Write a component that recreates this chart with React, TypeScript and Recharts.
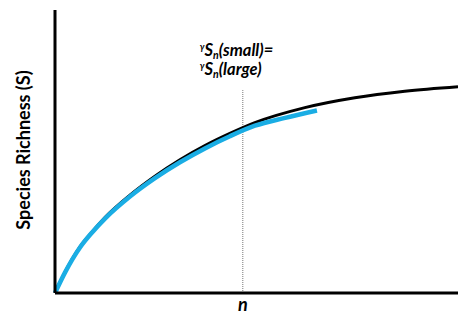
import React from "react";
import { ComposedChart, Line, XAxis, YAxis, ReferenceLine } from "recharts";

// Data (x: sample size, y: species richness)
const largeX = [0, 2.5, 6.2, 9.2, 12.4, 18.6, 24.8, 31.0, 37.2, 43.4, 49.6, 62.0, 74.4, 86.8, 100];
const largeY = [0, 7.4, 16.3, 21.6, 26.7, 34.6, 41.3, 47.1, 52.1, 56.4, 60.2, 65.5, 69.0, 71.3, 72.9];
const smallX = [0, 2.5, 6.2, 9.2, 12.4, 18.6, 24.8, 31.0, 37.2, 43.4, 49.6, 57.1, 65.0];
const smallY = [0, 7.3, 16.1, 21.4, 26.3, 34.1, 40.6, 46.2, 51.1, 55.4, 59.1, 61.9, 64.5];
const nValue = 46.6;
const nLineTop = 71.7;
const xTickLabels = ["n"];
const yLabel = "Species Richness (S)";

const largeData = largeX.map((x, i) => ({ x, large: largeY[i] }));
const smallData = smallX.map((x, i) => ({ x, small: smallY[i] }));

const FONT = "Lato, 'DejaVu Sans', sans-serif";

const NTick = (props: any) => {
  const { x, y } = props;
  return (
    <text x={x} y={y + 10} textAnchor="middle" fontFamily={FONT} fontWeight="bold" fontStyle="italic" fontSize={18} fill="#000">
      {xTickLabels[0]}
    </text>
  );
};

const YLabel = () => (
  <text x={30} y={150} transform="rotate(-90, 30, 150)" textAnchor="middle" fontFamily={FONT} fontWeight="bold" fontSize={18} fill="#000">
    {yLabel}
  </text>
);

const Annotation = (props: any) => {
  const vb = props.viewBox || {};
  const cx = (vb.x ?? 243) - 43;
  return (
    <g fontFamily={FONT} fontWeight="bold" fontStyle="italic" fill="#000">
      <text x={cx} y={56} fontSize={16.5}>
        <tspan fontSize={9} dy={-6}>γ</tspan>
        <tspan dy={6}>S</tspan>
        <tspan fontSize={10.5} dy={3}>n</tspan>
        <tspan dy={-3}>(small)=</tspan>
      </text>
      <text x={cx} y={75} fontSize={16.5}>
        <tspan fontSize={9} dy={-6}>γ</tspan>
        <tspan dy={6}>S</tspan>
        <tspan fontSize={10.5} dy={3}>n</tspan>
        <tspan dy={-3}>(large)</tspan>
      </text>
    </g>
  );
};

export default function App() {
  return (
    <div style={{ position: "absolute", left: 0, top: 0, width: 458, height: 311, background: "#fff" }}>
      <ComposedChart width={458} height={311} margin={{ top: 10, right: 0, bottom: 0, left: 0 }}>
        <XAxis
          type="number"
          dataKey="x"
          domain={[0, 100]}
          ticks={[nValue]}
          tick={<NTick />}
          tickLine={false}
          axisLine={{ stroke: "#000", strokeWidth: 3 }}
          height={18}
          allowDuplicatedCategory={false}
        />
        <YAxis
          type="number"
          domain={[0, 100]}
          tick={false}
          tickLine={false}
          axisLine={{ stroke: "#000", strokeWidth: 3 }}
          width={55}
          label={<YLabel />}
        />
        <ReferenceLine
          segment={[{ x: nValue, y: 0 }, { x: nValue, y: nLineTop }]}
          stroke="#777"
          strokeWidth={1}
          strokeDasharray="1 1"
          label={(p: any) => <Annotation {...p} />}
        />
        <Line data={largeData} dataKey="large" type="monotone" stroke="#000" strokeWidth={3} dot={false} isAnimationActive={false} />
        <Line data={smallData} dataKey="small" type="monotone" stroke="#1AADE4" strokeWidth={4.5} dot={false} isAnimationActive={false} />
      </ComposedChart>
    </div>
  );
}
